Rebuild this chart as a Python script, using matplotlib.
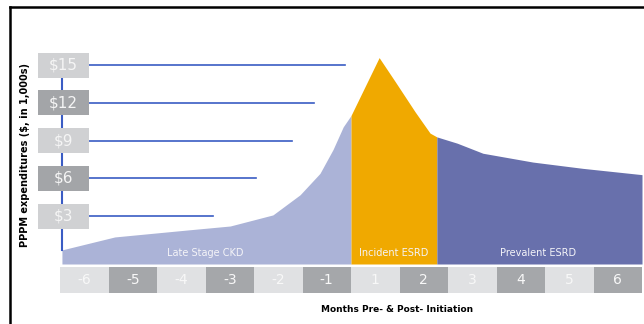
import matplotlib
matplotlib.use("Agg")
import matplotlib.pyplot as plt
from matplotlib.lines import Line2D
import numpy as np

# curve, x in month slots (0 = left edge of "-6", 6 = start of dialysis)
ckd_x = [0.04, 1.13, 2.62, 3.51, 4.39, 4.95, 5.36, 5.63, 5.84, 6.0]
ckd_y = [0.32, 1.35, 1.90, 2.22, 3.10, 4.70, 6.40, 8.30, 10.1, 11.0]
inc_x = [6.0, 6.58, 6.91, 7.32, 7.63, 7.77]
inc_y = [11.0, 15.6, 13.7, 11.3, 9.6, 9.3]
prev_x = [7.77, 8.19, 8.72, 9.75, 10.78, 12.0]
prev_y = [9.3, 8.8, 8.0, 7.3, 6.8, 6.3]

phase_names = ["Late Stage CKD", "Incident ESRD", "Prevalent ESRD"]
phase_label_x = [3.0, 6.88, 9.85]

y_ticks = [3, 6, 9, 12, 15]
y_tick_labels = ["$3", "$6", "$9", "$12", "$15"]
guide_ends = [3.15, 4.04, 4.78, 5.24, 5.88]

months = ["-6", "-5", "-4", "-3", "-2", "-1", "1", "2", "3", "4", "5", "6"]

c_ckd = "#abb3d7"
c_inc = "#f0a900"
c_prev = "#6870ac"
c_blue = "#3a5cc4"
c_light = "#e0e1e3"
c_dark = "#a5a7aa"

narrow = ["Liberation Sans Narrow", "DejaVu Sans"]

W, H = 644, 324
fig = plt.figure(figsize=(W / 100, H / 100), dpi=100)

# main area axes
ax = fig.add_axes([60 / W, 1 - 264 / H, 582 / W, 224 / H])
bottom = -0.8
ax.fill_between(ckd_x, ckd_y, bottom, color=c_ckd, lw=0)
ax.fill_between(inc_x, inc_y, bottom, color=c_inc, lw=0)
ax.fill_between(prev_x, prev_y, bottom, color=c_prev, lw=0)
ax.set_xlim(0, 12)
ax.set_ylim(bottom, 17.0)
ax.axis("off")

for name, px in zip(phase_names, phase_label_x):
    ax.text(px, 0.1, name, ha="center", va="center", color="#f4f4f8",
            fontsize=7, family=narrow)

# y axis: blue stem, guide lines, grey boxes
ax.plot([0.04, 0.04], [0.3, 15], color=c_blue, lw=1.5, clip_on=False, zorder=3)
for i, (v, lab, end) in enumerate(zip(y_ticks, y_tick_labels, guide_ends)):
    ax.plot([0.6, end], [v, v], color=c_blue, lw=1.2, zorder=3)
    col = "#d0d1d3" if i % 2 == 0 else "#a3a5a8"
    ax.add_patch(plt.Rectangle((-0.45, v - 0.99), 1.05, 1.98, facecolor=col,
                               edgecolor="none", clip_on=False, zorder=4))
    ax.text(0.075, v, lab, ha="center", va="center", color="#f5f5f5",
            fontsize=11, family=narrow, zorder=5, clip_on=False)

# month cells
axm = fig.add_axes([60 / W, 1 - 293 / H, 582 / W, 26 / H])
pos = np.arange(len(months)) + 0.5
cols = [c_light if i % 2 == 0 else c_dark for i in range(len(months))]
axm.bar(pos, 1, width=1, color=cols, lw=0)
for p, m in zip(pos, months):
    axm.text(p, 0.5, m, ha="center", va="center", color="#f8f8f8",
             fontsize=10, family=narrow)
axm.set_xlim(0, 12)
axm.set_ylim(0, 1)
axm.axis("off")

# axis titles
fig.text(25 / W, 1 - 155 / H, "PPPM expenditures ($, in 1,000s)", rotation=90,
         ha="center", va="center", fontsize=7, fontweight="bold")
fig.text(397 / W, 1 - 310 / H, "Months Pre- & Post- Initiation",
         ha="center", va="center", fontsize=6.5, fontweight="bold", family=narrow)

# frame lines
fig.add_artist(Line2D([10 / W, 1], [1 - 7 / H, 1 - 7 / H], color="black", lw=1.8))
fig.add_artist(Line2D([10 / W, 10 / W], [0, 1 - 7 / H], color="black", lw=1.8))

fig.savefig("out.png", dpi=100)
